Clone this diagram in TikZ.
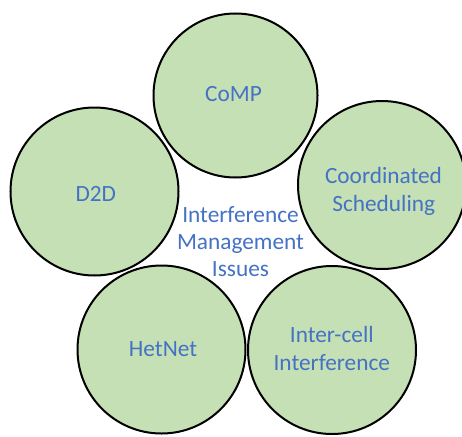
\documentclass[tikz,border=0pt]{standalone}
\usepackage{fontspec}
\setmainfont{Carlito}
\definecolor{fillg}{HTML}{C5E0B4}
\definecolor{txtb}{HTML}{4472C4}
\begin{document}
\begin{tikzpicture}[x=1pt,y=-1pt,
  bub/.style={circle, draw=black, line width=2pt, fill=fillg, minimum size=168pt, inner sep=0pt},
  lbl/.style={text=txtb, font=\fontsize{23.3}{28}\selectfont, anchor=base, inner sep=0pt}]
\useasboundingbox (0,0) rectangle (462,436);
\node[bub, minimum size=164pt] (comp) at (235.5,95.5) {};
\node[bub] (d2d) at (94.5,191.5) {};
\node[bub] (cs) at (382,185) {};
\node[bub] (het) at (161.5,349.5) {};
\node[bub] (ici) at (332,350) {};
\node[lbl] (tcomp) at (233.5,101.7) {CoMP};
\node[lbl] (td2d) at (95.8,201.7) {D2D};
\node[lbl] (tcs1) at (383.5,183.3) {Coordinated};
\node[lbl] (tcs2) at (383.7,211) {Scheduling};
\node[lbl] (thet) at (163,356) {HetNet};
\node[lbl] (tici1) at (331.8,342.3) {Inter-cell};
\node[lbl] (tici2) at (331.8,370.7) {Interference};
\node[lbl] (tc1) at (240.5,222) {Interference};
\node[lbl] (tc2) at (240.5,249.5) {Management};
\node[lbl] (tc3) at (240.5,276) {Issues};
\end{tikzpicture}
\end{document}
